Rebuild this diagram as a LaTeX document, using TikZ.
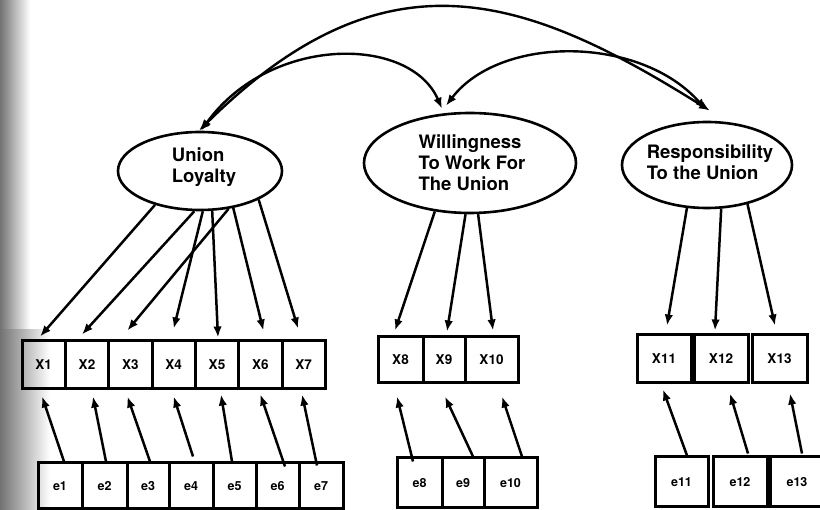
\documentclass[tikz,border=0pt]{standalone}
\usepackage{fontspec}
\setmainfont{TeX Gyre Heros}
\usetikzlibrary{arrows.meta,shapes.geometric}
\begin{document}
\begin{tikzpicture}[x=1pt,y=-1pt,
  lat/.style={ellipse,draw,line width=2.6pt,inner sep=0pt},
  lattext/.style={font=\fontsize{18.5}{21}\selectfont\bfseries,align=left,inner sep=0pt},
  obs/.style={draw,line width=3pt,inner sep=0pt,font=\fontsize{13.5}{13.5}\selectfont\bfseries},
  errb/.style={draw,line width=3pt,inner sep=0pt,font=\fontsize{12.5}{12.5}\selectfont\bfseries},
  arr/.style={line width=2.5pt,-{Latex[length=11pt,width=8.5pt]}},
  cov/.style={line width=2.4pt,{Latex[length=11pt,width=8.5pt]}-{Latex[length=11pt,width=8.5pt]}},
]
\useasboundingbox (0,0) rectangle (820,510);
% scanned grey margin
\shade[left color=black!55,right color=white] (0,0) rectangle (30,330);
\shade[left color=black!55,right color=white] (0,330) rectangle (50,510);

% latent variables
\node[lat,minimum width=164pt,minimum height=78pt] (ul) at (200,171) {};
\node[lattext] (ult) at (204,167) {Union\\Loyalty};
\node[lat,minimum width=212pt,minimum height=100pt] (w) at (470,163) {};
\node[lattext] (wt) at (472,163) {Willingness\\To Work For\\The Union};
\node[lat,minimum width=170pt,minimum height=86pt] (r) at (707,165) {};
\node[lattext] (rt) at (710,162) {Responsibility\\To the Union};

% observed variables
\foreach \n/\x in {1/43.7,2/87,3/130.4,4/173.7,5/217,6/260.4,7/303.7}
  \node[obs,minimum width=43.4pt,minimum height=48pt] (x\n) at (\x,365) {X\n};
\node[obs,minimum width=45pt,minimum height=46pt] (x8) at (400.5,360) {X8};
\node[obs,minimum width=42pt,minimum height=46pt] (x9) at (444,360) {X9};
\node[obs,minimum width=53pt,minimum height=46pt] (x10) at (491.5,360) {X10};
\node[obs,minimum width=54pt,minimum height=48pt] (x11) at (664,359) {X11};
\node[obs,minimum width=54pt,minimum height=48pt] (x12) at (721,359) {X12};
\node[obs,minimum width=55pt,minimum height=48pt] (x13) at (779.5,359) {X13};

% error terms
\node[errb,minimum width=44pt,minimum height=46pt] (e1) at (60,486) {e1};
\node[errb,minimum width=45pt,minimum height=46pt] (e2) at (104.5,486) {e2};
\node[errb,minimum width=42pt,minimum height=46pt] (e3) at (148,486) {e3};
\node[errb,minimum width=44pt,minimum height=46pt] (e4) at (191,486) {e4};
\node[errb,minimum width=43pt,minimum height=46pt] (e5) at (234.5,486) {e5};
\node[errb,minimum width=43pt,minimum height=46pt] (e6) at (277.5,486) {e6};
\node[errb,minimum width=44pt,minimum height=46pt] (e7) at (321,486) {e7};
\node[errb,minimum width=45pt,minimum height=50pt] (e8) at (419.5,483) {e8};
\node[errb,minimum width=42pt,minimum height=50pt] (e9) at (463,483) {e9};
\node[errb,minimum width=53pt,minimum height=50pt] (e10) at (510.5,483) {e10};
\node[errb,minimum width=53pt,minimum height=50pt] (e11) at (681.5,482) {e11};
\node[errb,minimum width=54pt,minimum height=50pt] (e12) at (740,482) {e12};
\node[errb,minimum width=54pt,minimum height=50pt] (e13) at (797,482) {e13};

% covariances
\draw[cov] ([xshift=-1pt]ul.north) .. controls (385,-54) and (524,-6) .. ([xshift=3pt,yshift=10pt]r.north);
\draw[cov] ([xshift=1pt]ul.north) .. controls (270,35) and (410,35) .. ([xshift=-28pt,yshift=3pt]w.north);
\draw[cov] ([xshift=-24pt,yshift=6pt]w.north) .. controls (500,35) and (640,35) .. ([xshift=-1pt,yshift=11pt]r.north);

% loadings
\draw[arr] (ul.217) -- ([xshift=-3.6pt,yshift=3pt]x1.north);
\draw[arr] (ul.262) -- ([xshift=-5pt,yshift=5pt]x2.north);
\draw[arr] (ul.307) -- ([xshift=-3pt,yshift=9pt]x3.north);
\draw[arr] (ul.274) -- ([yshift=11pt]x4.north);
\draw[arr] (ul.287) -- ([xshift=1pt,yshift=2pt]x5.north);
\draw[arr] (ul.312) -- ([xshift=3pt,yshift=9pt]x6.north);
\draw[arr] (ul.334) -- ([xshift=-5.6pt,yshift=11pt]x7.north);
\draw[arr] (w.234) -- ([xshift=-5.5pt,yshift=5pt]x8.north);
\draw[arr] (w.265) -- ([xshift=3pt,yshift=4pt]x9.north);
\draw[arr] (w.279) -- ([xshift=1.5pt,yshift=5pt]x10.north);
\draw[arr] (r.245) -- ([xshift=3pt,yshift=8pt]x11.north);
\draw[arr] (r.288) -- ([xshift=-6pt,yshift=3pt]x12.north);
\draw[arr] (r.316) -- ([xshift=-4.5pt,yshift=8pt]x13.north);

% error paths
\draw[arr] ([xshift=4pt]e1.north) -- ([xshift=-1.6pt,yshift=-6pt]x1.south);
\draw[arr] ([xshift=1.5pt]e2.north) -- ([xshift=6pt,yshift=-6pt]x2.south);
\draw[arr] ([xshift=2pt]e3.north) -- ([xshift=-3pt,yshift=-6pt]x3.south);
\draw[arr] ([xshift=2pt,yshift=5pt]e4.north) -- ([yshift=-6pt]x4.south);
\draw[arr] ([xshift=-2.5pt]e5.north) -- ([xshift=4pt,yshift=-4pt]x5.south);
\draw[arr] ([xshift=7.5pt,yshift=-5pt]e6.north) -- ([yshift=-4pt]x6.south);
\draw[arr] ([xshift=-4pt,yshift=-4pt]e7.north) -- ([xshift=-1.6pt,yshift=-4pt]x7.south);
\draw[arr] ([xshift=-6.5pt,yshift=-5pt]e8.north) -- ([xshift=-3.5pt,yshift=-12pt]x8.south);
\draw[arr] ([xshift=10pt]e9.north) -- ([xshift=1pt,yshift=-12pt]x9.south);
\draw[arr] ([xshift=11.5pt]e10.north) -- ([xshift=10.5pt,yshift=-12pt]x10.south);
\draw[arr] ([xshift=5.5pt]e11.north) -- ([xshift=-1pt,yshift=-5pt]x11.south);
\draw[arr] ([xshift=8pt,yshift=2pt]e12.north) -- ([xshift=9pt,yshift=-9pt]x12.south);
\draw[arr] ([xshift=5pt,yshift=2pt]e13.north) -- ([xshift=10.5pt,yshift=-9pt]x13.south);
\end{tikzpicture}
\end{document}
